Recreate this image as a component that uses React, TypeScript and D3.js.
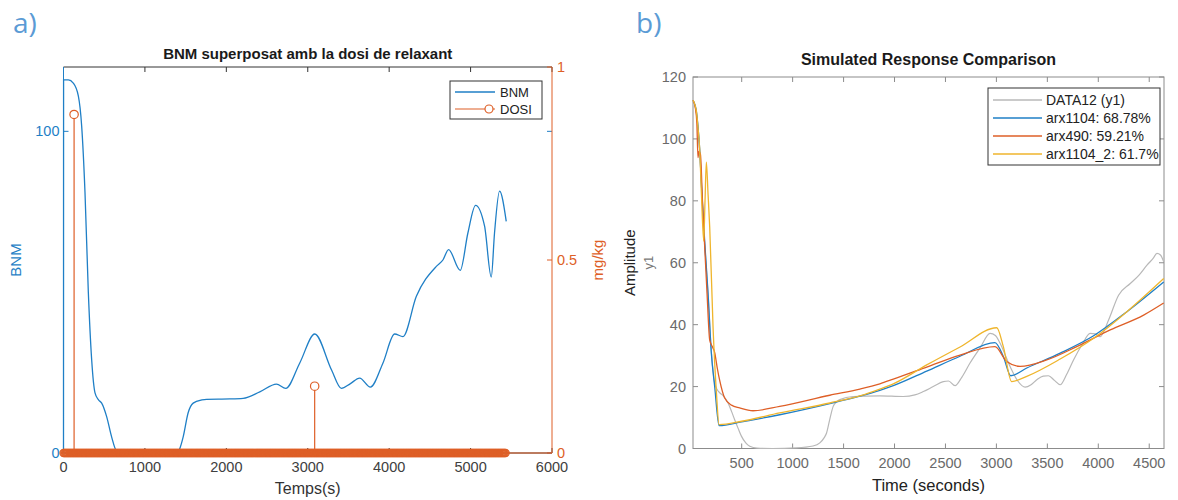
import React from 'react';
import * as d3 from 'd3';

// ---------- Panel a) data ----------
const BNM_T = [0, 1, 60, 120, 182, 223, 264, 305, 346, 387, 430, 469, 530, 591, 653, 700, 1389, 1430, 1470, 1531, 1593, 1700, 1757, 2043, 2206, 2411, 2616, 2730, 2902, 3086, 3291, 3413, 3520, 3638, 3769, 3924, 4067, 4169, 4334, 4579, 4660, 4730, 4873, 4967, 5061, 5172, 5254, 5294, 5356, 5438];
const BNM_V = [0, 116, 116, 115, 111, 101.7, 81, 50, 29, 18.7, 16.5, 15.5, 11.3, 5, 0.5, 0, 0, 1.5, 5, 12.5, 15.5, 16.5, 16.7, 16.8, 17, 19, 21.4, 20.1, 28, 37, 25.9, 20.1, 21.5, 23.3, 20.5, 28, 37, 36.2, 48.7, 58, 60, 63.2, 56.8, 68.4, 77, 70.5, 54.7, 68.4, 81.4, 72];
const DOSE_EVENT_T = [130, 3085];
const DOSE_EVENT_V = [0.877, 0.173];
const DOSE_SAMPLE_END = 5430;
const DOSE_SAMPLE_STEP = 10;

const A_X_TICKS = [0, 1000, 2000, 3000, 4000, 5000, 6000];
const A_YL_TICKS = [0, 100];
const A_YR_TICKS = [0, 0.5, 1];
const A_YR_LABELS = ['0', '0.5', '1'];

// ---------- Panel b) data ----------
const DATA_T = [22, 55, 71, 87, 110, 137, 170, 202, 235, 260, 284, 320, 366, 400, 431, 465, 497, 540, 579, 650, 800, 1038, 1200, 1267, 1310, 1333, 1365, 1398, 1430, 1463, 1594, 1856, 2086, 2200, 2283, 2380, 2479, 2530, 2594, 2660, 2741, 2840, 2938, 2990, 3036, 3134, 3210, 3282, 3340, 3396, 3460, 3511, 3570, 3626, 3690, 3757, 3840, 3920, 3970, 4018, 4101, 4199, 4314, 4400, 4478, 4540, 4576, 4610, 4642];
const DATA_V = [112, 108.5, 103.5, 96.5, 81.5, 66, 49.5, 31.5, 21, 19, 18, 17, 14.7, 12, 9.3, 6.5, 4, 1.8, 0.7, 0.1, 0, 0.2, 0.8, 1.8, 3.5, 5, 9.5, 13.6, 15, 15.8, 16.8, 17, 16.8, 17.3, 18.4, 20, 21.6, 21.8, 20.3, 23, 27.6, 32.5, 37.2, 36.5, 34, 26.5, 21.8, 19.8, 20.6, 22.2, 23.4, 23.5, 22, 20.6, 24, 28.6, 33.5, 37.2, 37, 36.1, 41.5, 49.5, 53.3, 56, 59.2, 61.5, 63, 62.5, 60.3];

const ARX1104_T = [22, 55, 71, 87, 110, 137, 170, 202, 235, 278, 500, 873, 1365, 1660, 1856, 1988, 2316, 2643, 2986, 3068, 3141, 3298, 3626, 3954, 4281, 4642];
const ARX1104_V = [112.5, 109, 104, 97, 82, 66.7, 50, 30.8, 20, 7.4, 8.6, 10.9, 14.5, 16.9, 18.8, 20.3, 25.0, 29.8, 34.2, 29.7, 23.5, 26, 30.8, 36.4, 44.2, 53.8];

const ARX490_T = [22, 45, 60, 71, 80, 95, 115, 137, 160, 186, 210, 235, 260, 284, 333, 400, 480, 611, 873, 1365, 1660, 1856, 1988, 2316, 2643, 2986, 3101, 3232, 3494, 3789, 4117, 4445, 4642];
const ARX490_V = [112.5, 110, 105, 94, 96, 95, 80, 65, 50, 35, 33, 31, 26, 22, 16.3, 14, 13.1, 12.2, 13.6, 17.2, 19.2, 20.9, 22.4, 26.3, 30.2, 32.9, 28.1, 26.5, 28.6, 32.9, 38.3, 43.1, 47];

const ARX1104_2_T = [22, 55, 71, 87, 105, 127, 140, 153, 170, 186, 219, 252, 278, 500, 873, 1365, 1660, 1856, 1988, 2316, 2643, 3003, 3068, 3150, 3298, 3626, 3954, 4281, 4642];
const ARX1104_2_V = [112.5, 109, 103.7, 97, 82, 67, 80, 92.5, 82, 71.5, 39, 18, 7.7, 8.8, 11.5, 14.7, 17.0, 19.2, 20.9, 27.0, 32.8, 39, 32.9, 21.6, 23.3, 28.9, 35.6, 44.2, 54.9];

const B_X_TICKS = [500, 1000, 1500, 2000, 2500, 3000, 3500, 4000, 4500];
const B_Y_TICKS = [0, 20, 40, 60, 80, 100, 120];
const B_LEGEND = ['DATA12 (y1)', 'arx1104: 68.78%', 'arx490: 59.21%', 'arx1104_2: 61.7%'];

const BLUE = '#1f7fc6';
const ORANGE = '#de5f27';
const GRAY_LINE = '#b8b8b8';
const YELLOW = '#efb52c';
const FONT = '"Liberation Sans", Arial, Helvetica, sans-serif';

type P = [number, number];
const zip = (t: number[], v: number[]): P[] => t.map((x, i) => [x, v[i]]);

export default function App() {
  // Panel a scales
  const xA = d3.scaleLinear().domain([0, 6000]).range([63.5, 552]);
  const yAL = d3.scaleLinear().domain([0, 120]).range([453, 67]);
  const yAR = d3.scaleLinear().domain([0, 1]).range([453, 67]);
  const [aL, aR] = xA.range();
  const aB = yAL(0), aT = yAL(120);

  const bnmLine = d3.line<P>().x(d => xA(d[0])).y(d => yAL(d[1])).curve(d3.curveMonotoneX);
  const doseSamples = d3.range(0, DOSE_SAMPLE_END + 1, DOSE_SAMPLE_STEP);

  // Panel b scales
  const xB = d3.scaleLinear().domain([22, 4645]).range([693, 1164]);
  const yB = d3.scaleLinear().domain([0, 120]).range([448.5, 77]);
  const [bL, bR] = xB.range();
  const bB = yB(0), bT = yB(120);
  const smooth = d3.line<P>().x(d => xB(d[0])).y(d => yB(d[1])).curve(d3.curveMonotoneX);

  const series = [
    { d: zip(DATA_T, DATA_V), c: GRAY_LINE, w: 1.2 },
    { d: zip(ARX1104_T, ARX1104_V), c: BLUE, w: 1.3 },
    { d: zip(ARX490_T, ARX490_V), c: ORANGE, w: 1.3 },
    { d: zip(ARX1104_2_T, ARX1104_2_V), c: YELLOW, w: 1.3 },
  ];

  const tk = 5;
  const labelFont = '"Open Sans", "Liberation Sans", sans-serif';
  return (
    <div style={{ position: 'absolute', left: 0, top: 0 }}>
      <svg width={1178} height={500} style={{ display: 'block', background: '#fff' }} fontFamily={FONT}>
        {/* panel labels */}
        <text x={13} y={33} fontSize={28} fill="#5b9bd5" fontFamily={labelFont}>a)</text>
        <text x={636} y={33} fontSize={28} fill="#5b9bd5" fontFamily={labelFont}>b)</text>

        {/* ===== Panel a ===== */}
        <text x={(aL + aR) / 2} y={59} textAnchor="middle" fontSize={15} fontWeight="bold" fill="#1a1a1a">BNM superposat amb la dosi de relaxant</text>
        <line x1={aL} x2={aR} y1={aT} y2={aT} stroke="#333" strokeWidth={1} />
        {A_X_TICKS.map(t => (
          <g key={'ax' + t}>
            <line x1={xA(t)} x2={xA(t)} y1={aT} y2={aT + tk} stroke="#333" />
            <line x1={xA(t)} x2={xA(t)} y1={aB} y2={aB - tk} stroke="#333" />
            <text x={xA(t)} y={aB + 19} textAnchor="middle" fontSize={14.5} fill="#404040">{t}</text>
          </g>
        ))}
        <line x1={aL} x2={aR} y1={aB} y2={aB} stroke="#333" />
        <line x1={aL} x2={aL} y1={aT} y2={aB} stroke={BLUE} />
        {A_YL_TICKS.map(v => (
          <g key={'al' + v}>
            <line x1={aL} x2={aL + tk} y1={yAL(v)} y2={yAL(v)} stroke={BLUE} />
            <line x1={aR} x2={aR - tk} y1={yAL(v)} y2={yAL(v)} stroke={BLUE} />
            <text x={aL - 4} y={yAL(v) + 5} textAnchor="end" fontSize={14.5} fill={BLUE}>{v}</text>
          </g>
        ))}
        <text transform={`translate(21,${(aT + aB) / 2}) rotate(-90)`} textAnchor="middle" fontSize={15} fill={BLUE}>BNM</text>
        <line x1={aR} x2={aR} y1={aT} y2={aB} stroke={ORANGE} />
        {A_YR_TICKS.map((v, i) => (
          <g key={'ar' + v}>
            <line x1={aR} x2={aR - tk} y1={yAR(v)} y2={yAR(v)} stroke={ORANGE} />
            <text x={aR + 5} y={yAR(v) + 5} fontSize={14.5} fill={ORANGE}>{A_YR_LABELS[i]}</text>
          </g>
        ))}
        <text transform={`translate(603,${(aT + aB) / 2}) rotate(-90)`} textAnchor="middle" fontSize={15} fill={ORANGE}>mg/kg</text>

        <path d={bnmLine(zip(BNM_T, BNM_V)) || ''} fill="none" stroke={BLUE} strokeWidth={1.3} />
        <line x1={aL} x2={aR} y1={yAR(0)} y2={yAR(0)} stroke={ORANGE} strokeWidth={1} />
        {doseSamples.map(t => (
          <circle key={'ds' + t} cx={xA(t)} cy={yAR(0)} r={3.6} fill="none" stroke={ORANGE} strokeWidth={1.2} />
        ))}
        {DOSE_EVENT_T.map((t, i) => (
          <g key={'de' + t}>
            <line x1={xA(t)} x2={xA(t)} y1={yAR(0)} y2={yAR(DOSE_EVENT_V[i])} stroke={ORANGE} strokeWidth={1.2} />
            <circle cx={xA(t)} cy={yAR(DOSE_EVENT_V[i])} r={4.2} fill="#fff" stroke={ORANGE} strokeWidth={1.2} />
          </g>
        ))}
        <text x={(aL + aR) / 2} y={494} textAnchor="middle" fontSize={16} fill="#333">Temps(s)</text>
        <rect x={450} y={81} width={92} height={38} fill="#fff" stroke="#333" strokeWidth={1} />
        <line x1={455} x2={495} y1={92} y2={92} stroke={BLUE} strokeWidth={1.3} />
        <text x={500} y={97} fontSize={13} fill="#222">BNM</text>
        <line x1={455} x2={495} y1={109} y2={109} stroke={ORANGE} strokeWidth={1.2} />
        <circle cx={489} cy={109} r={4} fill="#fff" stroke={ORANGE} strokeWidth={1.2} />
        <text x={500} y={114} fontSize={13} fill="#222">DOSI</text>

        {/* ===== Panel b ===== */}
        <text x={(bL + bR) / 2} y={65} textAnchor="middle" fontSize={16} fontWeight="bold" fill="#1a1a1a">Simulated Response Comparison</text>
        <rect x={bL} y={bT} width={bR - bL} height={bB - bT} fill="none" stroke="#8c8c8c" strokeWidth={1} />
        {B_X_TICKS.map(t => (
          <g key={'bx' + t}>
            <line x1={xB(t)} x2={xB(t)} y1={bB} y2={bB - tk} stroke="#8c8c8c" />
            <line x1={xB(t)} x2={xB(t)} y1={bT} y2={bT + tk} stroke="#8c8c8c" />
            <text x={xB(t)} y={bB + 19} textAnchor="middle" fontSize={14.5} fill="#6a6a6a">{t}</text>
          </g>
        ))}
        {B_Y_TICKS.map(v => (
          <g key={'by' + v}>
            <line x1={bL} x2={bL + tk} y1={yB(v)} y2={yB(v)} stroke="#8c8c8c" />
            <line x1={bR} x2={bR - tk} y1={yB(v)} y2={yB(v)} stroke="#8c8c8c" />
            <text x={bL - 7} y={yB(v) + 5} textAnchor="end" fontSize={14.5} fill="#6a6a6a">{v}</text>
          </g>
        ))}
        <text transform={`translate(635,${(bT + bB) / 2}) rotate(-90)`} textAnchor="middle" fontSize={15} fill="#222">Amplitude</text>
        <text transform={`translate(653,${(bT + bB) / 2}) rotate(-90)`} textAnchor="middle" fontSize={13} fill="#777">y1</text>
        <text x={(bL + bR) / 2} y={491} textAnchor="middle" fontSize={16.5} fill="#222">Time (seconds)</text>
        {series.map((s, i) => (
          <path key={'s' + i} d={smooth(s.d) || ''} fill="none" stroke={s.c} strokeWidth={s.w} />
        ))}
        <rect x={988} y={88} width={172} height={77} fill="#fff" stroke="#333" strokeWidth={1} />
        {B_LEGEND.map((lab, i) => (
          <g key={'lg' + i}>
            <line x1={993} x2={1042} y1={100 + i * 18} y2={100 + i * 18} stroke={series[i].c} strokeWidth={1.3} />
            <text x={1046} y={105 + i * 18} fontSize={14} fill="#222">{lab}</text>
          </g>
        ))}
      </svg>
    </div>
  );
}
